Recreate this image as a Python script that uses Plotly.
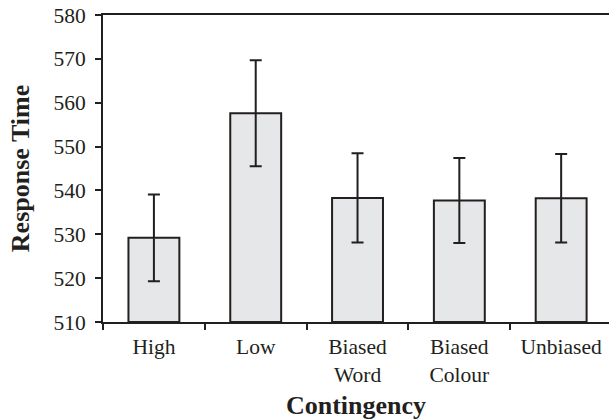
import plotly.graph_objects as go

categories = ["High", "Low", "Biased<br>Word", "Biased<br>Colour", "Unbiased"]
response_time = [529.2, 557.6, 538.3, 537.7, 538.2]
error = [9.9, 12.1, 10.2, 9.7, 10.1]
y_ticks = [510, 520, 530, 540, 550, 560, 570, 580]

ink = "#231f20"
font_family = "Liberation Serif, Times New Roman, serif"

fig = go.Figure()
fig.add_trace(go.Bar(
    x=categories,
    y=[v - 510 for v in response_time],
    base=510,
    width=0.5,
    marker=dict(color="#e6e7e8", line=dict(color=ink, width=2)),
    error_y=dict(type="data", array=error, visible=True, color=ink,
                 thickness=2, width=6),
    hoverinfo="skip",
))

fig.update_layout(
    width=609, height=420,
    margin=dict(l=103, r=0, t=15, b=98),
    paper_bgcolor="white", plot_bgcolor="white",
    showlegend=False,
    font=dict(family=font_family, size=21.5, color=ink),
    bargap=0.5,
)
fig.update_xaxes(
    range=[-0.5, 4.47],
    automargin=False,
    showline=True, linecolor=ink, linewidth=2, mirror=True,
    ticks="outside", ticklen=6, tickwidth=2, tickcolor=ink,
    tickson="boundaries",
    ticklabelstandoff=4,
    showgrid=False,
    title=dict(text="<b>Contingency</b>", standoff=10),
)
fig.update_yaxes(
    range=[510, 580],
    automargin=False,
    tickvals=y_ticks,
    showline=True, linecolor=ink, linewidth=2,
    ticks="outside", ticklen=6, tickwidth=2, tickcolor=ink,
    ticklabelstandoff=5,
    showgrid=False, zeroline=False,
    title=dict(text="<b>Response Time</b>", standoff=16),
)

fig.write_html("out.html", config={"displayModeBar": False, "staticPlot": True})

# remove the browser's default page margin so the figure sits at (0, 0)
with open("out.html", encoding="utf-8") as f:
    html = f.read()
html = html.replace("<body>", '<body style="margin:0;padding:0;overflow:hidden">', 1)
with open("out.html", "w", encoding="utf-8") as f:
    f.write(html)
